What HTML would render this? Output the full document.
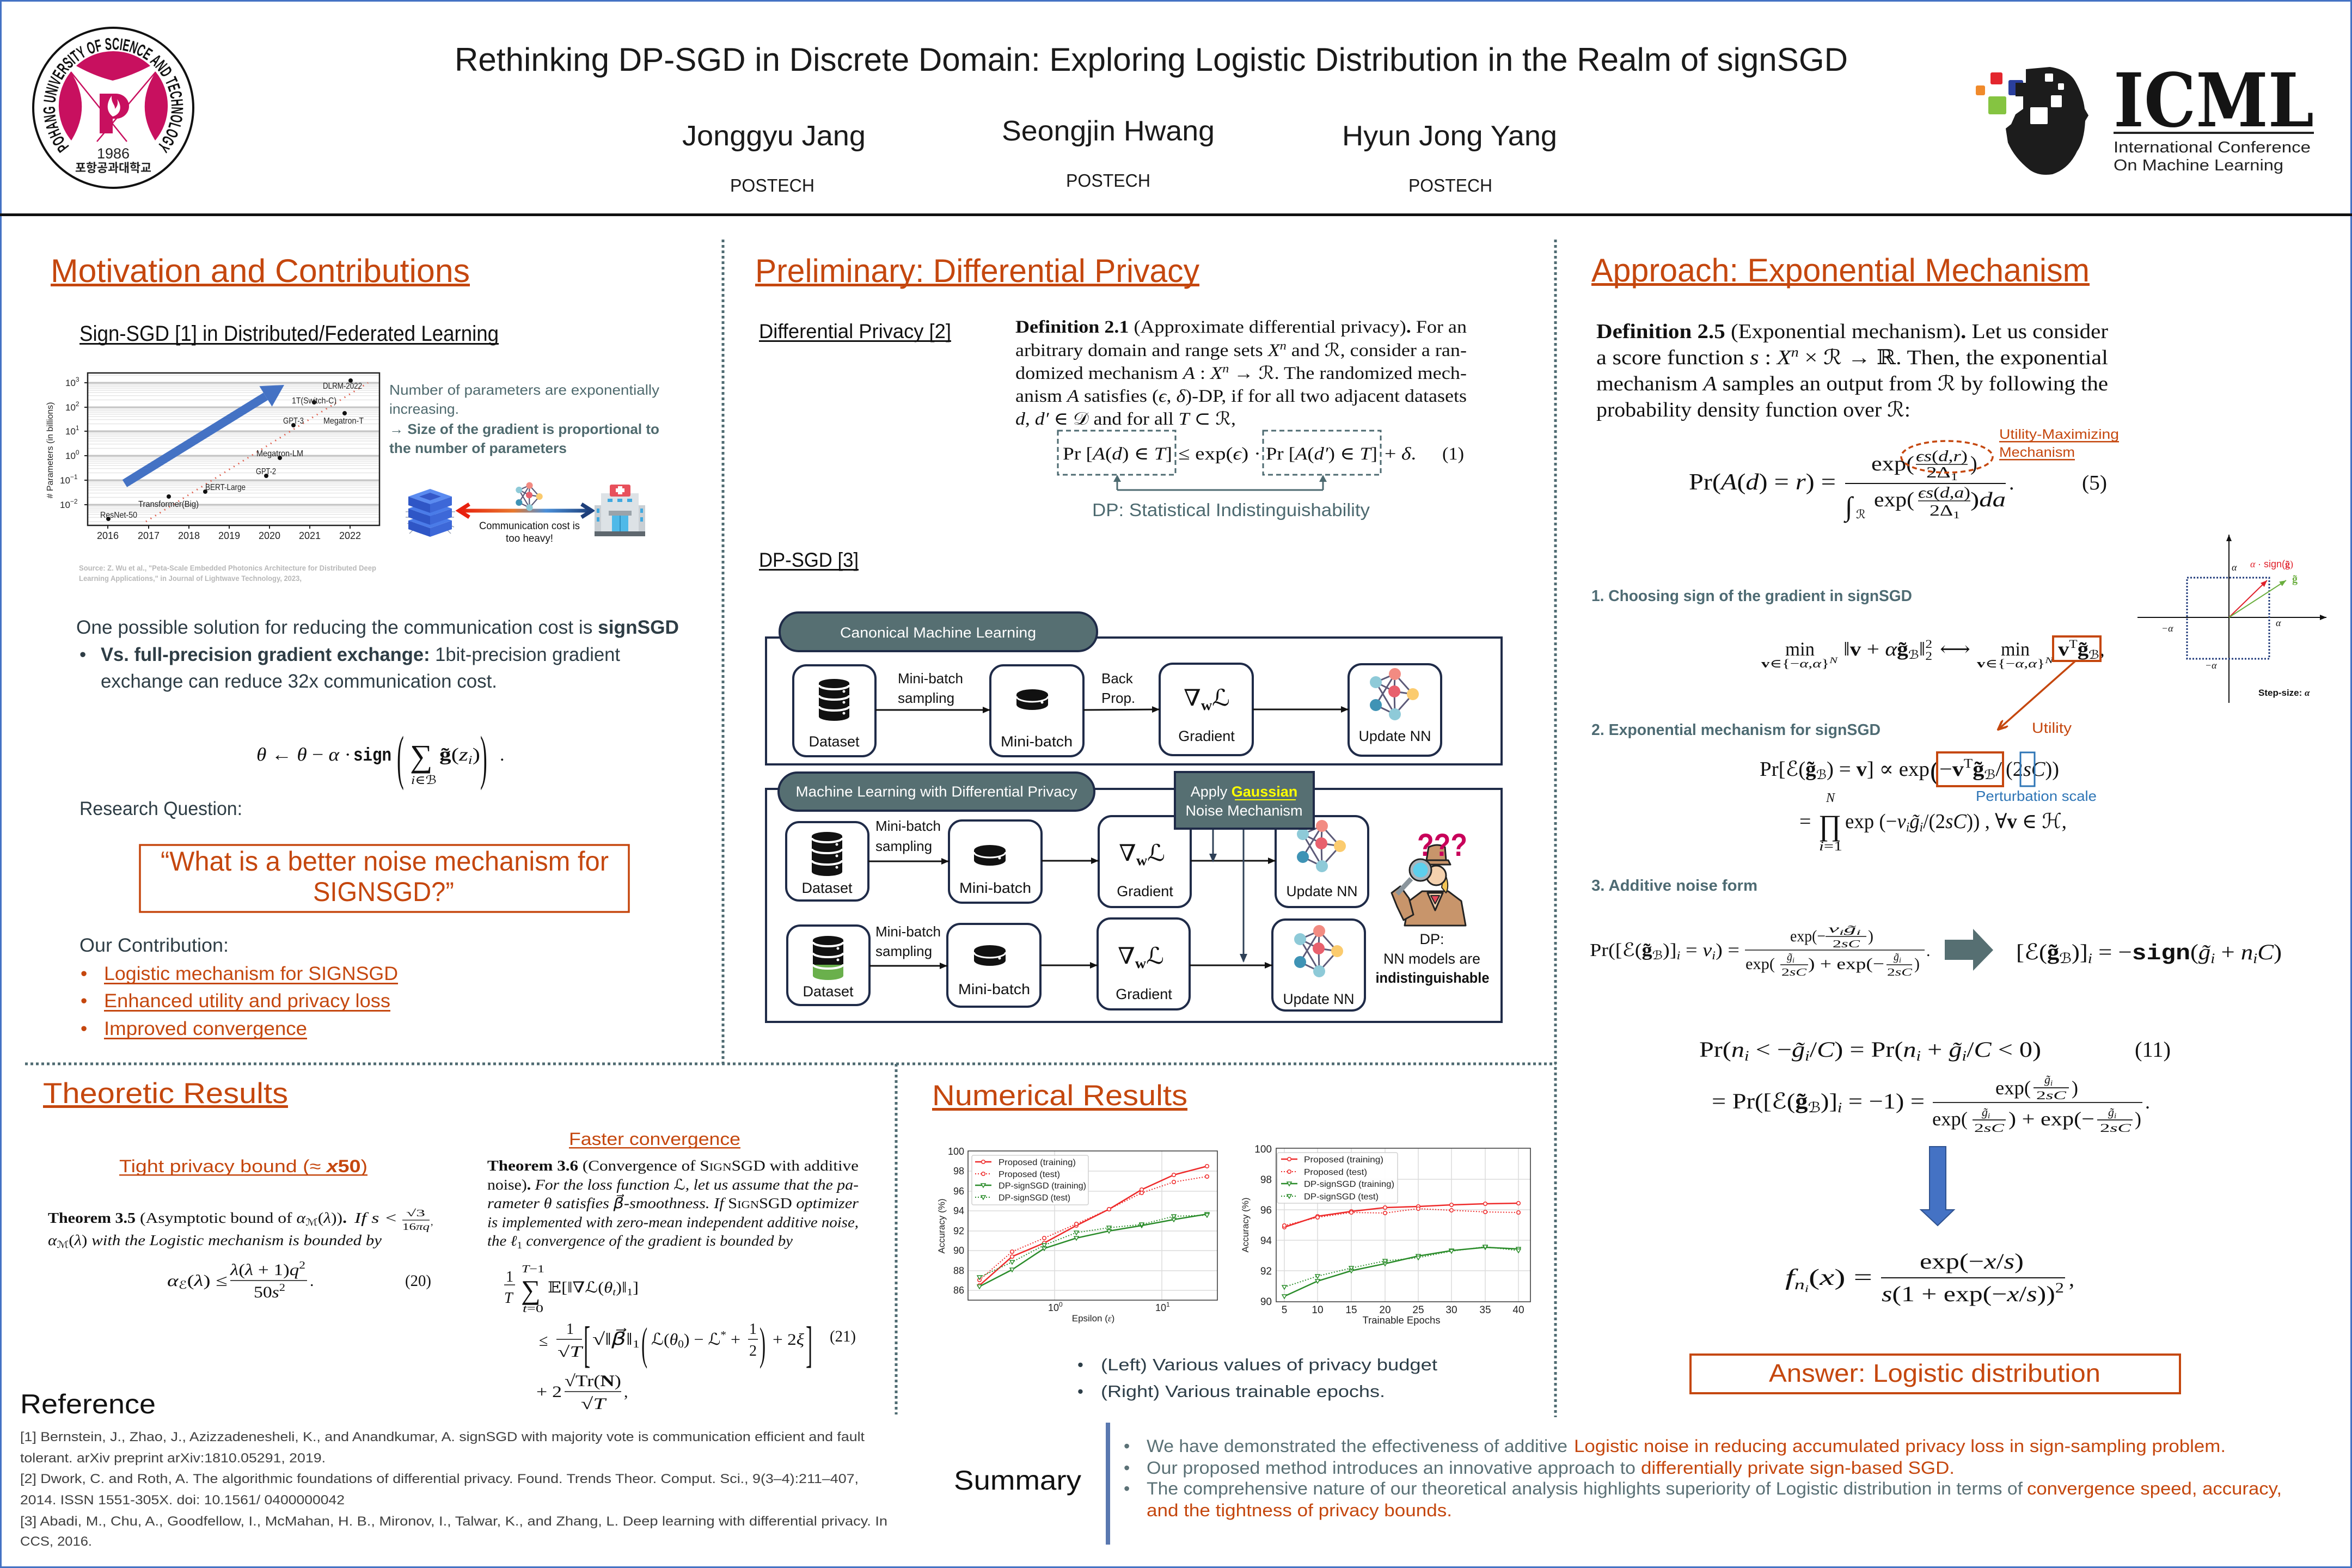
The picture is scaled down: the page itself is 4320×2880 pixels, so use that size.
<!DOCTYPE html>
<html><head><meta charset="utf-8">
<style>
html,body{margin:0;padding:0;background:#fff}
svg{display:block}
text{font-family:"Liberation Sans","DejaVu Sans",sans-serif}
.sf,.sf text{font-family:"Liberation Serif","DejaVu Serif","DejaVu Sans",serif}
.m,.m text{font-family:"Liberation Serif","DejaVu Serif","DejaVu Sans",serif;font-style:italic}
.mono{font-family:"Liberation Mono","DejaVu Sans Mono",monospace;font-weight:bold;font-style:normal}
.o{fill:#C5470E}
.sl{fill:#2E3D45}
.tg{fill:#4D6A70}
</style></head><body>
<svg xmlns="http://www.w3.org/2000/svg" width="4320" height="2880" viewBox="0 0 4320 2880">
<defs>
<marker id="ah" viewBox="0 0 14 12" refX="14" refY="6" markerWidth="14" markerHeight="12" markerUnits="userSpaceOnUse" orient="auto"><path d="M0,0 L14,6 L0,12 z" fill="#111"/></marker>
<marker id="aho" viewBox="0 0 20 16" refX="18" refY="8" markerWidth="20" markerHeight="16" markerUnits="userSpaceOnUse" orient="auto"><path d="M0,0 L18,8 L0,16" fill="none" stroke="#C5470E" stroke-width="4"/></marker>
<marker id="ahk" viewBox="0 0 12 10" refX="12" refY="5" markerWidth="12" markerHeight="10" markerUnits="userSpaceOnUse" orient="auto"><path d="M0,0 L12,5 L0,10 z" fill="#111"/></marker>
<marker id="ahr" viewBox="0 0 12 10" refX="12" refY="5" markerWidth="12" markerHeight="10" markerUnits="userSpaceOnUse" orient="auto"><path d="M0,0 L12,5 L0,10 z" fill="#E0202A"/></marker>
<marker id="ahg" viewBox="0 0 12 10" refX="12" refY="5" markerWidth="12" markerHeight="10" markerUnits="userSpaceOnUse" orient="auto"><path d="M0,0 L12,5 L0,10 z" fill="#6AAE3E"/></marker>
<marker id="mc" viewBox="-5 -5 10 10" markerWidth="10" markerHeight="10" markerUnits="userSpaceOnUse"><circle r="3.3" fill="#fff" stroke="#EE2A2A" stroke-width="1.5"/></marker>
<marker id="mt" viewBox="-5 -5 10 10" markerWidth="10" markerHeight="10" markerUnits="userSpaceOnUse"><path d="M-4,-3 L4,-3 L0,4 Z" fill="#fff" stroke="#2A8C2A" stroke-width="1.5"/></marker>
<linearGradient id="arrg" gradientUnits="userSpaceOnUse" x1="845" y1="938" x2="1088" y2="938"><stop offset="0" stop-color="#E8200E"/><stop offset="0.4" stop-color="#E8782E"/><stop offset="0.65" stop-color="#4A8FD8"/><stop offset="1" stop-color="#1E3F7A"/></linearGradient>
<path id="pcirc" d="M132.3,273.7 A107,107 0 1 1 283.7,273.7"/>
</defs>

<!-- page border -->
<rect x="1.5" y="1.5" width="4317" height="2877" fill="none" stroke="#4472C4" stroke-width="3"/>

<!-- ============ HEADER ============ -->
<circle cx="208" cy="198" r="147" fill="#fff" stroke="#111" stroke-width="4"/>
<text font-size="31" font-weight="bold" fill="#111"><textPath href="#pcirc" startOffset="50%" text-anchor="middle" textLength="490" lengthAdjust="spacingAndGlyphs">POHANG UNIVERSITY OF SCIENCE AND TECHNOLOGY</textPath></text>
<path d="M140,121 A99,99 0 0 1 276,121 Q240,140 207,148 Q174,140 140,121 Z" fill="#C8105F"/>
<path d="M130,132 Q170,195 131,258 A99,99 0 0 1 130,132 Z" fill="#C8105F"/>
<path d="M286,132 Q246,195 285,258 A99,99 0 0 0 286,132 Z" fill="#C8105F"/>
<path d="M130,132 L233,260 M286,132 L178,260" stroke="#C8105F" stroke-width="2.5"/>
<rect x="183" y="172" width="24" height="73" fill="#C8105F"/>
<path d="M183,172 H213 A24,23 0 0 1 213,218 H183 Z" fill="#C8105F"/>
<path d="M207,214 C194,204 196,188 205,176 C204,190 212,192 211,200 C217,194 217,188 215,182 C225,195 222,210 207,214 Z" fill="#fff"/>
<text x="208" y="291" font-size="27" text-anchor="middle" fill="#222">1986</text>
<text x="208" y="316" font-size="22" text-anchor="middle" font-weight="bold" fill="#222" style="font-family:'Noto Sans CJK KR','NanumGothic',sans-serif" textLength="140" lengthAdjust="spacingAndGlyphs">포항공과대학교</text>

<text x="835" y="130" font-size="60" fill="#1a1a1a" textLength="2559" lengthAdjust="spacingAndGlyphs">Rethinking DP-SGD in Discrete Domain: Exploring Logistic Distribution in the Realm of signSGD</text>
<text x="1253" y="267" font-size="52" fill="#1a1a1a" textLength="337" lengthAdjust="spacingAndGlyphs">Jonggyu Jang</text>
<text x="1840" y="258" font-size="52" fill="#1a1a1a" textLength="391" lengthAdjust="spacingAndGlyphs">Seongjin Hwang</text>
<text x="2465" y="267" font-size="52" fill="#1a1a1a" textLength="395" lengthAdjust="spacingAndGlyphs">Hyun Jong Yang</text>
<text x="1341" y="352" font-size="33" fill="#1a1a1a" textLength="155" lengthAdjust="spacingAndGlyphs">POSTECH</text>
<text x="1958" y="343" font-size="33" fill="#1a1a1a" textLength="155" lengthAdjust="spacingAndGlyphs">POSTECH</text>
<text x="2587" y="352" font-size="33" fill="#1a1a1a" textLength="154" lengthAdjust="spacingAndGlyphs">POSTECH</text>

<!-- ICML logo -->
<rect x="3656" y="133" width="22" height="22" rx="3" fill="#E3262E"/>
<rect x="3689" y="147" width="27" height="28" rx="3" fill="#2A3F9D"/>
<rect x="3629" y="157" width="17" height="18" rx="3" fill="#F08A2B"/>
<rect x="3652" y="177" width="33" height="33" rx="3" fill="#85C441"/>
<path d="M3721,127 L3765,123 Q3800,128 3812,150 Q3826,175 3829,200 L3836,212 L3830,222 Q3828,260 3815,278 Q3800,310 3770,320 Q3745,324 3728,312 Q3700,290 3688,262 L3684,236 L3694,228 L3702,210 L3716,200 L3716,177 L3702,177 L3702,152 L3721,152 Z" fill="#1c1c1c"/>
<rect x="3756" y="135" width="15" height="15" rx="2" fill="#fff"/>
<rect x="3780" y="153" width="11" height="12" rx="2" fill="#fff"/>
<rect x="3767" y="175" width="20" height="22" rx="2" fill="#fff"/>
<rect x="3729" y="197" width="32" height="31" rx="2" fill="#fff"/>
<text x="3882" y="232" font-size="136" font-weight="bold" fill="#141414" style="font-family:'DejaVu Serif','Liberation Serif',serif" textLength="368" lengthAdjust="spacingAndGlyphs">ICML</text>
<rect x="3882" y="242" width="368" height="4" fill="#222"/>
<text x="3882" y="280" font-size="29" fill="#222" textLength="362" lengthAdjust="spacingAndGlyphs">International Conference</text>
<text x="3882" y="313" font-size="29" fill="#222" textLength="312" lengthAdjust="spacingAndGlyphs">On Machine Learning</text>

<rect x="0" y="392" width="4320" height="5" fill="#111"/>

<g stroke="#4F6B72" stroke-width="5" stroke-dasharray="5 5" fill="none">
<path d="M1328,440 V1954"/>
<path d="M2857,440 V2603"/>
<path d="M46,1954 H2857"/>
<path d="M1646,1954 V2598"/>
</g>

<!-- ============ MOTIVATION ============ -->
<text x="93" y="518" font-size="60" class="o" textLength="770" lengthAdjust="spacingAndGlyphs">Motivation and Contributions</text>
<rect x="93" y="521" width="770" height="5" fill="#C5470E"/>
<text x="146" y="626" font-size="40" fill="#111" textLength="770" lengthAdjust="spacingAndGlyphs">Sign-SGD [1] in Distributed/Federated Learning</text>
<rect x="146" y="630" width="770" height="3" fill="#111"/>

<rect x="161" y="685" width="536" height="280" fill="#fff"/>
<path d="M161,958.3H697M161,950.4H697M161,944.8H697M161,940.5H697M161,936.9H697M161,933.9H697M161,931.3H697M161,929H697M161,913.5H697M161,905.6H697M161,900H697M161,895.7H697M161,892.1H697M161,889.1H697M161,886.5H697M161,884.2H697M161,868.5H697M161,860.6H697M161,855H697M161,850.7H697M161,847.1H697M161,844.1H697M161,841.5H697M161,839.2H697M161,823.5H697M161,815.6H697M161,810H697M161,805.7H697M161,802.1H697M161,799.1H697M161,796.5H697M161,794.2H697M161,778.5H697M161,770.6H697M161,765H697M161,760.7H697M161,757.1H697M161,754.1H697M161,751.5H697M161,749.2H697M161,734.5H697M161,726.6H697M161,721H697M161,716.7H697M161,713.1H697M161,710.1H697M161,707.5H697M161,705.2H697M161,689.5H697" stroke="#e6e6e6" stroke-width="1.5"/>
<path d="M161,927H697M161,882H697M161,837H697M161,792H697M161,748H697M161,703H697" stroke="#c4c4c4" stroke-width="3"/>
<rect x="161" y="685" width="536" height="280" fill="none" stroke="#222" stroke-width="2.5"/>
<path d="M161,927h-6M161,882h-6M161,837h-6M161,792h-6M161,748h-6M161,703h-6M198,965v6M273,965v6M347,965v6M421,965v6M495,965v6M569,965v6M643,965v6" stroke="#222" stroke-width="2"/>
<g font-size="17" fill="#222">
<text x="120" y="709">10<tspan font-size="12" dy="-8">3</tspan></text>
<text x="120" y="754">10<tspan font-size="12" dy="-8">2</tspan></text>
<text x="120" y="798">10<tspan font-size="12" dy="-8">1</tspan></text>
<text x="120" y="843">10<tspan font-size="12" dy="-8">0</tspan></text>
<text x="110" y="888">10<tspan font-size="12" dy="-8">−1</tspan></text>
<text x="110" y="933">10<tspan font-size="12" dy="-8">−2</tspan></text>
</g>
<g font-size="18" fill="#222" text-anchor="middle">
<text x="198" y="990">2016</text><text x="273" y="990">2017</text><text x="347" y="990">2018</text><text x="421" y="990">2019</text><text x="495" y="990">2020</text><text x="569" y="990">2021</text><text x="643" y="990">2022</text>
</g>
<text transform="translate(97,827) rotate(-90)" font-size="16" text-anchor="middle" fill="#222">#  Parameters (in billions)</text>
<path d="M268,958 L676,703" stroke="#E0604F" stroke-width="3" stroke-dasharray="2 8"/>
<path d="M229,888 L488,728" stroke="#4472C4" stroke-width="16"/>
<polygon points="522,707 499.6,746.7 476.4,709.3" fill="#4472C4"/>
<g fill="#111">
<circle cx="644" cy="699" r="4"/><circle cx="577" cy="739" r="4"/><circle cx="633" cy="759" r="4"/><circle cx="539" cy="781" r="4"/><circle cx="514" cy="841" r="4"/><circle cx="489" cy="874" r="4"/><circle cx="377" cy="903" r="4"/><circle cx="310" cy="912" r="4"/><circle cx="199" cy="953" r="4"/>
</g>
<g font-size="16" fill="#222">
<text x="593" y="714" textLength="72" lengthAdjust="spacingAndGlyphs">DLRM-2022</text>
<text x="536" y="741" textLength="82" lengthAdjust="spacingAndGlyphs">1T(Switch-C)</text>
<text x="520" y="778" textLength="38" lengthAdjust="spacingAndGlyphs">GPT-3</text>
<text x="594" y="778" textLength="74" lengthAdjust="spacingAndGlyphs">Megatron-T</text>
<text x="471" y="838" textLength="86" lengthAdjust="spacingAndGlyphs">Megatron-LM</text>
<text x="470" y="871" textLength="37" lengthAdjust="spacingAndGlyphs">GPT-2</text>
<text x="377" y="900" textLength="74" lengthAdjust="spacingAndGlyphs">BERT-Large</text>
<text x="254" y="931" textLength="111" lengthAdjust="spacingAndGlyphs">Transformer(Big)</text>
<text x="184" y="951" textLength="68" lengthAdjust="spacingAndGlyphs">ResNet-50</text>
</g>

<g font-size="26" fill="#4F6A6E">
<text x="715" y="725" textLength="496" lengthAdjust="spacingAndGlyphs">Number of parameters are exponentially</text>
<text x="715" y="760" textLength="128" lengthAdjust="spacingAndGlyphs">increasing.</text>
<text x="715" y="797" font-weight="bold" textLength="496" lengthAdjust="spacingAndGlyphs">→ Size of the gradient is proportional to</text>
<text x="715" y="832" font-weight="bold" textLength="326" lengthAdjust="spacingAndGlyphs">the number of parameters</text>
</g>

<g stroke="#9aa3b5" stroke-width="1.5" fill="none">
<path d="M745,940 h14 l8,8 M745,950 h12 l10,10 M748,962 l12,-6 M826,940 h10 M822,950 h12 M820,962 l14,6 M760,972 l-8,8 M820,972 l8,8"/>
</g>
<g>
<polygon points="750,956 790,970 790,986 750,972" fill="#2F56C6"/><polygon points="790,970 830,956 830,972 790,986" fill="#3D68D8"/><polygon points="750,956 790,942 830,956 790,970" fill="#4A7BE8"/>
<polygon points="750,934 790,948 790,964 750,950" fill="#2F56C6"/><polygon points="790,948 830,934 830,950 790,964" fill="#3D68D8"/><polygon points="750,934 790,920 830,934 790,948" fill="#4A7BE8"/>
<polygon points="750,912 790,926 790,942 750,928" fill="#2F56C6"/><polygon points="790,926 830,912 830,928 790,942" fill="#3D68D8"/><polygon points="750,912 790,898 830,912 790,926" fill="#5B8BF0"/>
<polygon points="770,912 790,905 810,912 790,919" fill="#3558C8"/>
</g>
<rect x="850" y="934.5" width="230" height="7" fill="url(#arrg)"/>
<path d="M862,926 L843,938 L862,950" fill="none" stroke="#E8200E" stroke-width="7"/>
<path d="M1068,926 L1087,938 L1068,950" fill="none" stroke="#1E3F7A" stroke-width="7"/>
<g transform="translate(972,912) scale(0.55)">
<path d="M-34,-22 L1,-37 M-34,-22 L0,-5 M-34,-22 L1,37 M1,-37 L0,-5 M1,-37 L34,0 M1,-37 L-34,20 M0,-5 L34,0 M0,-5 L1,37 M34,0 L1,37 M-34,20 L1,37" stroke="#5C5A78" stroke-width="4"/>
<circle cx="-34" cy="-22" r="11" fill="#8ECAD8"/><circle cx="1" cy="-37" r="11" fill="#F28B82"/><circle cx="0" cy="-5" r="11" fill="#E8606D"/><circle cx="34" cy="0" r="11" fill="#FBCB6E"/><circle cx="-34" cy="20" r="11" fill="#3F93B5"/><circle cx="1" cy="37" r="11" fill="#8ECAD8"/>
</g>
<text x="880" y="972" font-size="19" fill="#111" textLength="185" lengthAdjust="spacingAndGlyphs">Communication cost is</text>
<text x="929" y="995" font-size="19" fill="#111" textLength="87" lengthAdjust="spacingAndGlyphs">too heavy!</text>
<rect x="1092" y="928" width="93" height="50" fill="#C9CFD4"/>
<rect x="1104" y="906" width="69" height="72" fill="#DDE2E6"/>
<rect x="1120" y="890" width="38" height="22" rx="3" fill="#E8505B"/>
<rect x="1135" y="893" width="8" height="15" fill="#fff"/><rect x="1131" y="897" width="16" height="7" fill="#fff"/>
<rect x="1116" y="916" width="9" height="6" fill="#3FA9E0"/><rect x="1134" y="916" width="9" height="6" fill="#3FA9E0"/><rect x="1152" y="916" width="9" height="6" fill="#3FA9E0"/>
<rect x="1096" y="934" width="5" height="8" fill="#3FA9E0"/><rect x="1096" y="950" width="5" height="8" fill="#3FA9E0"/><rect x="1176" y="934" width="5" height="8" fill="#3FA9E0"/><rect x="1176" y="950" width="5" height="8" fill="#3FA9E0"/>
<rect x="1118" y="938" width="42" height="9" fill="#9AA3AA"/>
<rect x="1124" y="947" width="30" height="30" fill="#4FB9E8"/><rect x="1138" y="947" width="2" height="30" fill="#2d8fc0"/>
<rect x="1092" y="976" width="93" height="9" fill="#5E676E"/>

<text x="145" y="1048" font-size="14" font-weight="bold" fill="#B8B8B8" textLength="546" lengthAdjust="spacingAndGlyphs">Source: Z. Wu et al., "Peta-Scale Embedded Photonics Architecture for Distributed Deep</text>
<text x="145" y="1067" font-size="14" font-weight="bold" fill="#B8B8B8" textLength="409" lengthAdjust="spacingAndGlyphs">Learning Applications," in Journal of Lightwave Technology, 2023,</text>

<g font-size="35" class="sl">
<text x="140" y="1164" textLength="1107" lengthAdjust="spacingAndGlyphs">One possible solution for reducing the communication cost is <tspan font-weight="bold">signSGD</tspan></text>
<text x="146" y="1214">•</text>
<text x="185" y="1214" textLength="954" lengthAdjust="spacingAndGlyphs"><tspan font-weight="bold">Vs. full-precision gradient exchange:</tspan> 1bit-precision gradient</text>
<text x="185" y="1263" textLength="728" lengthAdjust="spacingAndGlyphs">exchange can reduce 32x communication cost.</text>
</g>
<text class="m" x="471" y="1397" font-size="34" fill="#111" textLength="174" lengthAdjust="spacingAndGlyphs">θ <tspan font-style="normal">←</tspan> θ <tspan font-style="normal">−</tspan> α <tspan font-style="normal">·</tspan></text>
<text class="mono" x="649" y="1397" font-size="34" fill="#111" textLength="70" lengthAdjust="spacingAndGlyphs">sign</text>
<text class="sf" x="729" y="1428" font-size="110" fill="#111" transform="translate(729,1428) scale(0.35,1) translate(-729,-1428)">(</text>
<text class="sf" x="753" y="1408" font-size="58" fill="#111">∑</text>
<text class="m" x="755" y="1440" font-size="22" fill="#111" textLength="47" lengthAdjust="spacingAndGlyphs">i∈ℬ</text>
<text class="m" x="807" y="1397" font-size="34" fill="#111" textLength="75" lengthAdjust="spacingAndGlyphs"><tspan font-weight="bold" font-style="normal">g̃</tspan><tspan font-style="normal">(</tspan>z<tspan font-size="22" dy="6">i</tspan><tspan font-style="normal" dy="-6">)</tspan></text>
<text class="sf" x="882" y="1428" font-size="110" fill="#111" transform="translate(882,1428) scale(0.35,1) translate(-882,-1428)">)</text>
<text class="sf" x="918" y="1397" font-size="34" fill="#111">.</text>

<text x="146" y="1497" font-size="35" class="sl" textLength="299" lengthAdjust="spacingAndGlyphs">Research Question:</text>
<rect x="257" y="1552" width="898" height="123" fill="none" stroke="#C5470E" stroke-width="3.5"/>
<text x="295" y="1599" font-size="50" class="o" textLength="823" lengthAdjust="spacingAndGlyphs">“What is a better noise mechanism for</text>
<text x="575" y="1655" font-size="50" class="o" textLength="259" lengthAdjust="spacingAndGlyphs">SIGNSGD?”</text>
<text x="146" y="1748" font-size="35" class="sl" textLength="274" lengthAdjust="spacingAndGlyphs">Our Contribution:</text>
<g font-size="35" class="o">
<text x="148" y="1800">•</text><text x="148" y="1850">•</text><text x="148" y="1901">•</text>
<text x="191" y="1800" textLength="540" lengthAdjust="spacingAndGlyphs">Logistic mechanism for SIGNSGD</text>
<text x="191" y="1850" textLength="526" lengthAdjust="spacingAndGlyphs">Enhanced utility and privacy loss</text>
<text x="191" y="1901" textLength="373" lengthAdjust="spacingAndGlyphs">Improved convergence</text>
</g>
<rect x="191" y="1805" width="540" height="3" fill="#C5470E"/>
<rect x="191" y="1855" width="526" height="3" fill="#C5470E"/>
<rect x="191" y="1906" width="373" height="3" fill="#C5470E"/>

<!-- ============ PRELIMINARY ============ -->
<text x="1387" y="518" font-size="60" class="o" textLength="816" lengthAdjust="spacingAndGlyphs">Preliminary: Differential Privacy</text>
<rect x="1387" y="521" width="816" height="5" fill="#C5470E"/>
<text x="1394" y="621" font-size="37" fill="#111" textLength="353" lengthAdjust="spacingAndGlyphs">Differential Privacy [2]</text>
<rect x="1394" y="625" width="353" height="3" fill="#111"/>

<g class="sf" font-size="33" fill="#111">
<text x="1865" y="611" textLength="829" lengthAdjust="spacingAndGlyphs"><tspan font-weight="bold">Definition 2.1</tspan> (Approximate differential privacy)<tspan font-weight="bold">.</tspan>  For an</text>
<text x="1865" y="654" textLength="829" lengthAdjust="spacingAndGlyphs">arbitrary domain and range sets <tspan font-style="italic">X</tspan><tspan font-style="italic" font-size="22" dy="-12">n</tspan><tspan dy="12"> and ℛ, consider a ran-</tspan></text>
<text x="1865" y="696" textLength="829" lengthAdjust="spacingAndGlyphs">domized mechanism <tspan font-style="italic">A</tspan> : <tspan font-style="italic">X</tspan><tspan font-style="italic" font-size="22" dy="-12">n</tspan><tspan dy="12"> → ℛ. The randomized mech-</tspan></text>
<text x="1865" y="738" textLength="829" lengthAdjust="spacingAndGlyphs">anism <tspan font-style="italic">A</tspan> satisfies (<tspan font-style="italic">ϵ</tspan>, <tspan font-style="italic">δ</tspan>)-DP, if for all two adjacent datasets</text>
<text x="1865" y="780" textLength="405" lengthAdjust="spacingAndGlyphs"><tspan font-style="italic">d</tspan>, <tspan font-style="italic">d′</tspan> ∈ 𝒟 and for all <tspan font-style="italic">T</tspan> ⊂ ℛ,</text>
<text x="1952" y="844" textLength="201" lengthAdjust="spacingAndGlyphs">Pr [<tspan font-style="italic">A</tspan>(<tspan font-style="italic">d</tspan>) ∈ <tspan font-style="italic">T</tspan>]</text>
<text x="2164" y="844" textLength="152" lengthAdjust="spacingAndGlyphs">≤ exp(<tspan font-style="italic">ϵ</tspan>) ·</text>
<text x="2325" y="844" textLength="205" lengthAdjust="spacingAndGlyphs">Pr [<tspan font-style="italic">A</tspan>(<tspan font-style="italic">d′</tspan>) ∈ <tspan font-style="italic">T</tspan>]</text>
<text x="2543" y="844" textLength="58" lengthAdjust="spacingAndGlyphs">+ <tspan font-style="italic">δ</tspan>.</text>
<text x="2649" y="844" textLength="40" lengthAdjust="spacingAndGlyphs">(1)</text>
</g>
<g fill="none" stroke="#4D6A70" stroke-width="3" stroke-dasharray="9 6">
<rect x="1943" y="791" width="216" height="81"/>
<rect x="2320" y="791" width="216" height="81"/>
</g>
<path d="M2052,900 V874 M2430,900 V874 M2052,900 H2430" stroke="#4D6A70" stroke-width="3" fill="none"/>
<polygon points="2052,872 2045,885 2059,885" fill="#4D6A70"/><polygon points="2430,872 2423,885 2437,885" fill="#4D6A70"/>
<text x="2006" y="948" font-size="33" class="tg" textLength="510" lengthAdjust="spacingAndGlyphs">DP: Statistical Indistinguishability</text>

<text x="1394" y="1041" font-size="37" fill="#111" textLength="183" lengthAdjust="spacingAndGlyphs">DP-SGD [3]</text>
<rect x="1394" y="1045" width="183" height="3" fill="#111"/>

<rect x="1407" y="1171" width="1351" height="233" fill="none" stroke="#1F2B48" stroke-width="4"/>
<rect x="1407" y="1449" width="1351" height="428" fill="none" stroke="#1F2B48" stroke-width="4"/>
<rect x="1432" y="1125" width="583" height="71" rx="35" fill="#566F72" stroke="#1F2B48" stroke-width="4"/>
<text x="1723" y="1171" font-size="27" fill="#fff" text-anchor="middle" textLength="360" lengthAdjust="spacingAndGlyphs">Canonical Machine Learning</text>
<rect x="1430" y="1419" width="580" height="70" rx="35" fill="#566F72" stroke="#1F2B48" stroke-width="4"/>
<text x="1720" y="1463" font-size="27" fill="#fff" text-anchor="middle" textLength="517" lengthAdjust="spacingAndGlyphs">Machine Learning with Differential Privacy</text>

<g fill="#fff" stroke="#1F2B48" stroke-width="4">
<rect x="1457" y="1222" width="151" height="167" rx="24"/>
<rect x="1819" y="1222" width="171" height="167" rx="24"/>
<rect x="2130" y="1219" width="171" height="168" rx="24"/>
<rect x="2477" y="1220" width="170" height="168" rx="24"/>
<rect x="1444" y="1510" width="151" height="144" rx="24"/>
<rect x="1743" y="1507" width="170" height="151" rx="24"/>
<rect x="2018" y="1499" width="169" height="167" rx="24"/>
<rect x="2343" y="1499" width="170" height="167" rx="24"/>
<rect x="1446" y="1700" width="151" height="146" rx="24"/>
<rect x="1740" y="1697" width="171" height="152" rx="24"/>
<rect x="2016" y="1687" width="169" height="167" rx="24"/>
<rect x="2337" y="1689" width="170" height="167" rx="24"/>
</g>

<g>
<path d="M1504,1255 A28,8 0 0 1 1560,1255 V1316 A28,8 0 0 1 1504,1316 Z" fill="#111"/>
<path d="M1504,1277 A28,8 0 0 0 1560,1277 M1504,1297 A28,8 0 0 0 1560,1297 M1504,1258 A28,8 0 0 0 1560,1258" stroke="#fff" stroke-width="4" fill="none"/>
<circle cx="1550" cy="1270" r="2.5" fill="#fff"/><circle cx="1550" cy="1290" r="2.5" fill="#fff"/><circle cx="1550" cy="1310" r="2.5" fill="#fff"/>
<path d="M1491,1536 A28,8 0 0 1 1547,1536 V1601 A28,8 0 0 1 1491,1601 Z" fill="#111"/>
<path d="M1491,1559 A28,8 0 0 0 1547,1559 M1491,1580 A28,8 0 0 0 1547,1580 M1491,1539 A28,8 0 0 0 1547,1539" stroke="#fff" stroke-width="4" fill="none"/>
<circle cx="1537" cy="1551" r="2.5" fill="#fff"/><circle cx="1537" cy="1572" r="2.5" fill="#fff"/><circle cx="1537" cy="1593" r="2.5" fill="#fff"/>
<path d="M1493,1727 A28,8 0 0 1 1549,1727 V1772 H1493 Z" fill="#111"/>
<path d="M1493,1772 H1549 V1792 A28,8 0 0 1 1493,1792 Z" fill="#6AB04C"/>
<path d="M1493,1750 A28,8 0 0 0 1549,1750 M1493,1771 A28,8 0 0 0 1549,1771 M1493,1730 A28,8 0 0 0 1549,1730" stroke="#fff" stroke-width="4" fill="none"/>
<circle cx="1539" cy="1742" r="2.5" fill="#fff"/><circle cx="1539" cy="1763" r="2.5" fill="#fff"/>
</g>
<g fill="#111">
<path d="M1867,1276 A29,10 0 0 1 1925,1276 V1294 A29,10 0 0 1 1867,1294 Z"/>
<path d="M1789,1562 A29,10 0 0 1 1847,1562 V1580 A29,10 0 0 1 1789,1580 Z"/>
<path d="M1789,1746 A29,10 0 0 1 1847,1746 V1764 A29,10 0 0 1 1789,1764 Z"/>
</g>
<path d="M1867,1279 A29,10 0 0 0 1925,1279 M1789,1565 A29,10 0 0 0 1847,1565 M1789,1749 A29,10 0 0 0 1847,1749" stroke="#fff" stroke-width="3" fill="none"/>
<circle cx="1914" cy="1290" r="2.5" fill="#fff"/><circle cx="1836" cy="1576" r="2.5" fill="#fff"/><circle cx="1836" cy="1760" r="2.5" fill="#fff"/>

<g class="sf" fill="#111" font-size="42">
<text x="2174" y="1296" textLength="85" lengthAdjust="spacingAndGlyphs">∇<tspan font-weight="bold" font-size="26" dy="8">w</tspan><tspan font-style="italic" dy="-8">ℒ</tspan></text>
<text x="2055" y="1581" textLength="85" lengthAdjust="spacingAndGlyphs">∇<tspan font-weight="bold" font-size="26" dy="8">w</tspan><tspan font-style="italic" dy="-8">ℒ</tspan></text>
<text x="2053" y="1770" textLength="85" lengthAdjust="spacingAndGlyphs">∇<tspan font-weight="bold" font-size="26" dy="8">w</tspan><tspan font-style="italic" dy="-8">ℒ</tspan></text>
</g>

<g transform="translate(2561,1275)">
<path d="M-34,-22 L1,-37 M-34,-22 L0,-5 M-34,-22 L1,37 M1,-37 L0,-5 M1,-37 L34,0 M1,-37 L-34,20 M0,-5 L34,0 M0,-5 L1,37 M34,0 L1,37 M-34,20 L1,37" stroke="#5C5A78" stroke-width="3"/>
<circle cx="-34" cy="-22" r="11" fill="#8ECAD8"/><circle cx="1" cy="-37" r="11" fill="#F28B82"/><circle cx="0" cy="-5" r="11" fill="#E8606D"/><circle cx="34" cy="0" r="11" fill="#FBCB6E"/><circle cx="-34" cy="20" r="11" fill="#3F93B5"/><circle cx="1" cy="37" r="11" fill="#8ECAD8"/>
</g>
<g transform="translate(2427,1554)">
<path d="M-34,-22 L1,-37 M-34,-22 L0,-5 M-34,-22 L1,37 M1,-37 L0,-5 M1,-37 L34,0 M1,-37 L-34,20 M0,-5 L34,0 M0,-5 L1,37 M34,0 L1,37 M-34,20 L1,37" stroke="#5C5A78" stroke-width="3"/>
<circle cx="-34" cy="-22" r="11" fill="#8ECAD8"/><circle cx="1" cy="-37" r="11" fill="#F28B82"/><circle cx="0" cy="-5" r="11" fill="#E8606D"/><circle cx="34" cy="0" r="11" fill="#FBCB6E"/><circle cx="-34" cy="20" r="11" fill="#3F93B5"/><circle cx="1" cy="37" r="11" fill="#8ECAD8"/>
</g>
<g transform="translate(2422,1747)">
<path d="M-34,-22 L1,-37 M-34,-22 L0,-5 M-34,-22 L1,37 M1,-37 L0,-5 M1,-37 L34,0 M1,-37 L-34,20 M0,-5 L34,0 M0,-5 L1,37 M34,0 L1,37 M-34,20 L1,37" stroke="#5C5A78" stroke-width="3"/>
<circle cx="-34" cy="-22" r="11" fill="#8ECAD8"/><circle cx="1" cy="-37" r="11" fill="#F28B82"/><circle cx="0" cy="-5" r="11" fill="#E8606D"/><circle cx="34" cy="0" r="11" fill="#FBCB6E"/><circle cx="-34" cy="20" r="11" fill="#3F93B5"/><circle cx="1" cy="37" r="11" fill="#8ECAD8"/>
</g>

<g font-size="27" fill="#111" text-anchor="middle">
<text x="1532" y="1371">Dataset</text>
<text x="1904" y="1371" textLength="132" lengthAdjust="spacingAndGlyphs">Mini-batch</text>
<text x="2216" y="1361">Gradient</text>
<text x="2562" y="1361" textLength="133" lengthAdjust="spacingAndGlyphs">Update NN</text>
<text x="1519" y="1640">Dataset</text>
<text x="1828" y="1640" textLength="132" lengthAdjust="spacingAndGlyphs">Mini-batch</text>
<text x="2103" y="1646">Gradient</text>
<text x="2428" y="1646" textLength="131" lengthAdjust="spacingAndGlyphs">Update NN</text>
<text x="1521" y="1830">Dataset</text>
<text x="1826" y="1826" textLength="132" lengthAdjust="spacingAndGlyphs">Mini-batch</text>
<text x="2101" y="1835">Gradient</text>
<text x="2422" y="1844" textLength="131" lengthAdjust="spacingAndGlyphs">Update NN</text>
</g>
<g font-size="26" fill="#111">
<text x="1649" y="1255">Mini-batch</text><text x="1649" y="1291">sampling</text>
<text x="2023" y="1255">Back</text><text x="2023" y="1291">Prop.</text>
<text x="1608" y="1526">Mini-batch</text><text x="1608" y="1563">sampling</text>
<text x="1608" y="1720">Mini-batch</text><text x="1608" y="1756">sampling</text>
</g>
<g stroke="#111" stroke-width="3" fill="none" marker-end="url(#ah)">
<path d="M1608,1304 H1819"/><path d="M1990,1304 L2130,1303"/><path d="M2301,1303 H2477"/>
<path d="M1595,1582 H1743"/><path d="M1913,1581 H2018"/><path d="M2187,1581 H2343"/>
<path d="M1597,1774 H1740"/><path d="M1911,1773 H2016"/><path d="M2185,1773 H2337"/>
</g>
<path d="M2228,1522 V1582 M2284,1522 V1766" stroke="#2E4057" stroke-width="3" fill="none"/>
<polygon points="2228,1584 2221,1568 2235,1568" fill="#2E4057"/>
<polygon points="2284,1768 2277,1752 2291,1752" fill="#2E4057"/>
<rect x="2158" y="1418" width="255" height="104" fill="#566F72" stroke="#1F2B48" stroke-width="4"/>
<text x="2285" y="1463" font-size="27" fill="#fff" text-anchor="middle">Apply <tspan fill="#FFFF00" font-weight="bold">Gaussian</tspan></text>
<rect x="2268" y="1468" width="112" height="2" fill="#FFFF00"/>
<text x="2285" y="1498" font-size="27" fill="#fff" text-anchor="middle" textLength="215" lengthAdjust="spacingAndGlyphs">Noise Mechanism</text>

<g stroke="#222" stroke-width="3" stroke-linejoin="round">
<path d="M2580,1700 L2588,1655 L2612,1637 L2660,1637 L2684,1655 L2692,1700 Z" fill="#C8956B"/>
<path d="M2622,1640 L2636,1672 L2650,1640 Z" fill="#F4D1AE"/>
<path d="M2628,1645 L2636,1660 L2644,1645 Z" fill="#E8485A" stroke-width="2"/>
<path d="M2652,1600 Q2664,1625 2656,1640 L2648,1630 Z" fill="#F3C556" stroke-width="2"/>
<circle cx="2638" cy="1608" r="18" fill="#F4D1AE"/>
<path d="M2612,1588 L2664,1588 L2660,1580 L2618,1580 Z" fill="#C8956B"/>
<path d="M2620,1580 L2624,1556 Q2640,1548 2654,1556 L2656,1580 Z" fill="#C8956B"/>
<path d="M2566,1665 L2556,1640 L2572,1628 L2588,1650 L2596,1680 L2578,1690 Z" fill="#C8956B"/>
<path d="M2592,1614 L2566,1642" stroke="#8A959C" stroke-width="9"/>
<circle cx="2609" cy="1598" r="20" fill="#5DD0EE" stroke="#222"/>
<circle cx="2609" cy="1598" r="16" fill="none" stroke="#AAB4BB" stroke-width="5"/>
</g>
<text x="2603" y="1572" font-size="58" font-weight="bold" fill="#C8005A" textLength="92" lengthAdjust="spacingAndGlyphs">???</text>
<g font-size="27" fill="#111" text-anchor="middle">
<text x="2630" y="1734">DP:</text>
<text x="2630" y="1770" textLength="178" lengthAdjust="spacingAndGlyphs">NN models are</text>
<text x="2631" y="1805" font-weight="bold" textLength="209" lengthAdjust="spacingAndGlyphs">indistinguishable</text>
</g>

<!-- ============ APPROACH ============ -->
<text x="2923" y="517" font-size="60" class="o" textLength="915" lengthAdjust="spacingAndGlyphs">Approach: Exponential Mechanism</text>
<rect x="2923" y="520" width="915" height="5" fill="#C5470E"/>
<g class="sf" font-size="38" fill="#111">
<text x="2932" y="621" textLength="940" lengthAdjust="spacingAndGlyphs"><tspan font-weight="bold">Definition 2.5</tspan> (Exponential mechanism)<tspan font-weight="bold">.</tspan>  Let us consider</text>
<text x="2932" y="669" textLength="940" lengthAdjust="spacingAndGlyphs">a score function <tspan font-style="italic">s</tspan> : <tspan font-style="italic">X</tspan><tspan font-style="italic" font-size="25" dy="-14">n</tspan><tspan dy="14"> × ℛ → ℝ. Then, the exponential</tspan></text>
<text x="2932" y="717" textLength="940" lengthAdjust="spacingAndGlyphs">mechanism <tspan font-style="italic">A</tspan> samples an output from ℛ by following the</text>
<text x="2932" y="765" textLength="577" lengthAdjust="spacingAndGlyphs">probability density function over ℛ:</text>
</g>
<text x="3672" y="806" font-size="25" class="o" textLength="220" lengthAdjust="spacingAndGlyphs">Utility-Maximizing</text>
<rect x="3672" y="810" width="220" height="2.5" fill="#C5470E"/>
<text x="3672" y="839" font-size="25" class="o" textLength="139" lengthAdjust="spacingAndGlyphs">Mechanism</text>
<rect x="3672" y="843" width="139" height="2.5" fill="#C5470E"/>
<g class="sf" fill="#111">
<text x="3102" y="899" font-size="42" textLength="270" lengthAdjust="spacingAndGlyphs">Pr(<tspan font-style="italic">A</tspan>(<tspan font-style="italic">d</tspan>) = <tspan font-style="italic">r</tspan>) =</text>
<text x="3437" y="864" font-size="38" textLength="79" lengthAdjust="spacingAndGlyphs">exp(</text>
<text x="3519" y="847" font-size="28" font-style="italic" textLength="95" lengthAdjust="spacingAndGlyphs">ϵs<tspan font-style="normal">(</tspan>d,r<tspan font-style="normal">)</tspan></text>
<text x="3538" y="877" font-size="28" textLength="58" lengthAdjust="spacingAndGlyphs">2Δ<tspan font-size="19" dy="5">1</tspan></text>
<text x="3619" y="864" font-size="38">)</text>
<text x="3389" y="947" font-size="50">∫</text>
<text x="3409" y="952" font-size="22" font-style="italic">ℛ</text>
<text x="3442" y="930" font-size="38" textLength="74" lengthAdjust="spacingAndGlyphs">exp(</text>
<text x="3523" y="914" font-size="28" font-style="italic" textLength="96" lengthAdjust="spacingAndGlyphs">ϵs<tspan font-style="normal">(</tspan>d,a<tspan font-style="normal">)</tspan></text>
<text x="3544" y="947" font-size="28" textLength="56" lengthAdjust="spacingAndGlyphs">2Δ<tspan font-size="19" dy="5">1</tspan></text>
<text x="3619" y="930" font-size="38" textLength="65" lengthAdjust="spacingAndGlyphs">)<tspan font-style="italic">da</tspan></text>
<text x="3690" y="899" font-size="38">.</text>
<text x="3824" y="899" font-size="38" textLength="46" lengthAdjust="spacingAndGlyphs">(5)</text>
</g>
<path d="M3519,853 H3614 M3523,920 H3619" stroke="#111" stroke-width="1.5"/>
<path d="M3389,888 H3684" stroke="#111" stroke-width="2"/>
<ellipse cx="3576" cy="839" rx="84" ry="29" fill="none" stroke="#C5470E" stroke-width="3.5" stroke-dasharray="9 6"/>

<g font-size="29" font-weight="bold" fill="#4E6B73">
<text x="2923" y="1104" textLength="589" lengthAdjust="spacingAndGlyphs">1. Choosing sign of the gradient in signSGD</text>
<text x="2923" y="1350" textLength="531" lengthAdjust="spacingAndGlyphs">2. Exponential mechanism for signSGD</text>
<text x="2923" y="1636" textLength="305" lengthAdjust="spacingAndGlyphs">3. Additive noise form</text>
</g>
<g class="sf" fill="#111">
<text x="3279" y="1204" font-size="36" textLength="54" lengthAdjust="spacingAndGlyphs">min</text>
<text x="3235" y="1226" font-size="22" textLength="140" lengthAdjust="spacingAndGlyphs"><tspan font-weight="bold">v</tspan>∈{−<tspan font-style="italic">α</tspan>,<tspan font-style="italic">α</tspan>}<tspan font-style="italic" font-size="16" dy="-8">N</tspan></text>
<text x="3386" y="1204" font-size="36" textLength="163" lengthAdjust="spacingAndGlyphs">‖<tspan font-weight="bold">v</tspan> + <tspan font-style="italic">α</tspan><tspan font-weight="bold">g̃</tspan><tspan font-style="italic" font-size="22" dy="6">ℬ</tspan><tspan dy="-6">‖</tspan><tspan font-size="22" dy="-14">2</tspan><tspan font-size="22" dx="-11" dy="22">2</tspan></text>
<text x="3563" y="1204" font-size="36" textLength="56" lengthAdjust="spacingAndGlyphs">⟷</text>
<text x="3675" y="1204" font-size="36" textLength="53" lengthAdjust="spacingAndGlyphs">min</text>
<text x="3631" y="1226" font-size="22" textLength="140" lengthAdjust="spacingAndGlyphs"><tspan font-weight="bold">v</tspan>∈{−<tspan font-style="italic">α</tspan>,<tspan font-style="italic">α</tspan>}<tspan font-style="italic" font-size="16" dy="-8">N</tspan></text>
<text x="3780" y="1204" font-size="36" textLength="86" lengthAdjust="spacingAndGlyphs"><tspan font-weight="bold">v</tspan><tspan font-size="22" dy="-14">T</tspan><tspan font-weight="bold" dy="14">g̃</tspan><tspan font-style="italic" font-size="22" dy="6">ℬ</tspan><tspan dy="-6">,</tspan></text>
</g>
<rect x="3771" y="1169" width="87" height="45" fill="none" stroke="#C5470E" stroke-width="4"/>
<path d="M3812,1214 L3670,1340" stroke="#C5470E" stroke-width="3.5" fill="none" marker-end="url(#aho)"/>
<text x="3732" y="1346" font-size="27" class="o" textLength="73" lengthAdjust="spacingAndGlyphs">Utility</text>
<g class="sf" fill="#111">
<text x="3232" y="1425" font-size="38" textLength="312" lengthAdjust="spacingAndGlyphs">Pr[ℰ(<tspan font-weight="bold">g̃</tspan><tspan font-style="italic" font-size="24" dy="6">ℬ</tspan><tspan dy="-6">) = </tspan><tspan font-weight="bold">v</tspan>] ∝ exp</text>
<text x="3545" y="1432" font-size="50">(</text>
<text x="3562" y="1425" font-size="38" textLength="115" lengthAdjust="spacingAndGlyphs">−<tspan font-weight="bold">v</tspan><tspan font-size="24" dy="-15">T</tspan><tspan font-weight="bold" dy="15">g̃</tspan><tspan font-style="italic" font-size="24" dy="6">ℬ</tspan><tspan dy="-6">/</tspan></text>
<text x="3684" y="1425" font-size="38" textLength="98" lengthAdjust="spacingAndGlyphs">(2<tspan font-style="italic">sC</tspan>))</text>
<text x="3305" y="1521" font-size="38">=</text>
<text x="3340" y="1534" font-size="54" textLength="42" lengthAdjust="spacingAndGlyphs">∏</text>
<text x="3354" y="1473" font-size="24" font-style="italic">N</text>
<text x="3341" y="1562" font-size="24" textLength="43" lengthAdjust="spacingAndGlyphs"><tspan font-style="italic">i</tspan>=1</text>
<text x="3389" y="1521" font-size="38" textLength="407" lengthAdjust="spacingAndGlyphs">exp (−<tspan font-style="italic">v</tspan><tspan font-style="italic" font-size="24" dy="6">i</tspan><tspan font-style="italic" dy="-6">g̃</tspan><tspan font-style="italic" font-size="24" dy="6">i</tspan><tspan dy="-6">/(2</tspan><tspan font-style="italic">sC</tspan>)) , ∀<tspan font-weight="bold">v</tspan> ∈ ℋ,</text>
</g>
<rect x="3558" y="1382" width="121" height="62" fill="none" stroke="#C5470E" stroke-width="4"/>
<rect x="3711" y="1382" width="26" height="62" fill="none" stroke="#2E75B6" stroke-width="3"/>
<text x="3629" y="1471" font-size="26" fill="#2E75B6" textLength="222" lengthAdjust="spacingAndGlyphs">Perturbation scale</text>

<path d="M3926,1134 H4273" stroke="#111" stroke-width="2" marker-end="url(#ahk)"/>
<path d="M4094,1291 V982" stroke="#111" stroke-width="2" marker-end="url(#ahk)"/>
<rect x="4017" y="1061" width="151" height="149" fill="none" stroke="#1F3A7A" stroke-width="3" stroke-dasharray="3 3"/>
<path d="M4094,1134 L4164,1066" stroke="#E0202A" stroke-width="2" marker-end="url(#ahr)"/>
<path d="M4094,1134 L4199,1066" stroke="#6AAE3E" stroke-width="2" marker-end="url(#ahg)"/>
<g class="m" font-size="18" fill="#111">
<text x="4099" y="1048">α</text>
<text x="3970" y="1160">−α</text>
<text x="4180" y="1150">α</text>
<text x="4050" y="1228">−α</text>
</g>
<text x="4133" y="1042" font-size="18" fill="#E0202A" class="m">α <tspan font-style="normal" style="font-family:'Liberation Sans',sans-serif">· sign(</tspan><tspan font-weight="bold" font-style="normal">g̃</tspan><tspan font-style="normal">)</tspan></text>
<text x="4210" y="1070" font-size="20" fill="#6AAE3E" font-weight="bold" class="sf">g̃</text>
<text x="4148" y="1278" font-size="17" font-weight="bold" fill="#111">Step-size: <tspan class="m">α</tspan></text>

<g class="sf" fill="#111">
<text x="2920" y="1756" font-size="34" textLength="275" lengthAdjust="spacingAndGlyphs">Pr([ℰ(<tspan font-weight="bold">g̃</tspan><tspan font-style="italic" font-size="22" dy="6">ℬ</tspan><tspan dy="-6">)]</tspan><tspan font-style="italic" font-size="22" dy="6">i</tspan><tspan dy="-6"> = </tspan><tspan font-style="italic">v</tspan><tspan font-style="italic" font-size="22" dy="6">i</tspan><tspan dy="-6">) =</tspan></text>
<text x="3288" y="1729" font-size="30" textLength="65" lengthAdjust="spacingAndGlyphs">exp(−</text>
<text x="3358" y="1713" font-size="20" font-style="italic" textLength="60" lengthAdjust="spacingAndGlyphs">v<tspan font-size="14" dy="4">i</tspan><tspan dy="-4">g̃</tspan><tspan font-size="14" dy="4">i</tspan></text>
<text x="3366" y="1740" font-size="20" textLength="50" lengthAdjust="spacingAndGlyphs">2<tspan font-style="italic">sC</tspan></text>
<text x="3431" y="1729" font-size="30">)</text>
<text x="3206" y="1780" font-size="30" textLength="54" lengthAdjust="spacingAndGlyphs">exp(</text>
<text x="3282" y="1764" font-size="20" font-style="italic">g̃<tspan font-size="14" dy="4">i</tspan></text>
<text x="3272" y="1792" font-size="20" textLength="46" lengthAdjust="spacingAndGlyphs">2<tspan font-style="italic">sC</tspan></text>
<text x="3321" y="1780" font-size="30" textLength="140" lengthAdjust="spacingAndGlyphs">) + exp(−</text>
<text x="3478" y="1764" font-size="20" font-style="italic">g̃<tspan font-size="14" dy="4">i</tspan></text>
<text x="3466" y="1792" font-size="20" textLength="46" lengthAdjust="spacingAndGlyphs">2<tspan font-style="italic">sC</tspan></text>
<text x="3516" y="1780" font-size="30">)</text>
<text x="3538" y="1756" font-size="30">.</text>
</g>
<path d="M3205,1745 H3535 M3353,1720 H3428 M3270,1772 H3321 M3465,1772 H3512" stroke="#111" stroke-width="1.5"/>
<polygon points="3572,1726 3624,1726 3624,1706 3661,1745 3624,1783 3624,1763 3572,1763" fill="#566F72"/>
<text class="sf" x="3703" y="1762" font-size="40" fill="#111" textLength="488" lengthAdjust="spacingAndGlyphs">[ℰ(<tspan font-weight="bold">g̃</tspan><tspan font-style="italic" font-size="26" dy="7">ℬ</tspan><tspan dy="-7">)]</tspan><tspan font-style="italic" font-size="26" dy="7">i</tspan><tspan dy="-7"> = −</tspan><tspan class="mono">sign</tspan>(<tspan font-style="italic">g̃</tspan><tspan font-style="italic" font-size="26" dy="7">i</tspan><tspan dy="-7"> + </tspan><tspan font-style="italic">n</tspan><tspan font-style="italic" font-size="26" dy="7">i</tspan><tspan font-style="italic" dy="-7">C</tspan>)</text>

<g class="sf" fill="#111">
<text x="3121" y="1941" font-size="40" textLength="628" lengthAdjust="spacingAndGlyphs">Pr(<tspan font-style="italic">n</tspan><tspan font-style="italic" font-size="26" dy="7">i</tspan><tspan dy="-7"> &lt; −</tspan><tspan font-style="italic">g̃</tspan><tspan font-style="italic" font-size="26" dy="7">i</tspan><tspan dy="-7">/</tspan><tspan font-style="italic">C</tspan>) = Pr(<tspan font-style="italic">n</tspan><tspan font-style="italic" font-size="26" dy="7">i</tspan><tspan dy="-7"> + </tspan><tspan font-style="italic">g̃</tspan><tspan font-style="italic" font-size="26" dy="7">i</tspan><tspan dy="-7">/</tspan><tspan font-style="italic">C</tspan> &lt; 0)</text>
<text x="3921" y="1941" font-size="40" textLength="66" lengthAdjust="spacingAndGlyphs">(11)</text>
<text x="3144" y="2036" font-size="40" textLength="391" lengthAdjust="spacingAndGlyphs">= Pr([ℰ(<tspan font-weight="bold">g̃</tspan><tspan font-style="italic" font-size="26" dy="7">ℬ</tspan><tspan dy="-7">)]</tspan><tspan font-style="italic" font-size="26" dy="7">i</tspan><tspan dy="-7"> = −1) =</tspan></text>
<text x="3665" y="2010" font-size="36" textLength="65" lengthAdjust="spacingAndGlyphs">exp(</text>
<text x="3755" y="1990" font-size="22" font-style="italic">g̃<tspan font-size="15" dy="4">i</tspan></text>
<text x="3740" y="2019" font-size="22" textLength="55" lengthAdjust="spacingAndGlyphs">2<tspan font-style="italic">sC</tspan></text>
<text x="3805" y="2010" font-size="36">)</text>
<text x="3549" y="2067" font-size="36" textLength="65" lengthAdjust="spacingAndGlyphs">exp(</text>
<text x="3640" y="2050" font-size="22" font-style="italic">g̃<tspan font-size="15" dy="4">i</tspan></text>
<text x="3626" y="2079" font-size="22" textLength="55" lengthAdjust="spacingAndGlyphs">2<tspan font-style="italic">sC</tspan></text>
<text x="3689" y="2067" font-size="36" textLength="158" lengthAdjust="spacingAndGlyphs">) + exp(−</text>
<text x="3872" y="2050" font-size="22" font-style="italic">g̃<tspan font-size="15" dy="4">i</tspan></text>
<text x="3857" y="2079" font-size="22" textLength="57" lengthAdjust="spacingAndGlyphs">2<tspan font-style="italic">sC</tspan></text>
<text x="3921" y="2067" font-size="36">)</text>
<text x="3940" y="2036" font-size="36">.</text>
</g>
<path d="M3550,2025 H3935 M3735,1998 H3800 M3623,2057 H3684 M3852,2057 H3917" stroke="#111" stroke-width="1.8"/>
<polygon points="3544,2106 3574,2106 3574,2222 3589,2222 3559,2251 3528,2222 3544,2222" fill="#4472C4" stroke="#2F528F" stroke-width="2"/>
<g class="sf" fill="#111">
<text x="3279" y="2360" font-size="42" textLength="160" lengthAdjust="spacingAndGlyphs"><tspan font-style="italic">f</tspan><tspan font-style="italic" font-size="26" dy="8">n</tspan><tspan font-style="italic" font-size="18" dy="5">i</tspan><tspan dy="-13">(</tspan><tspan font-style="italic">x</tspan>) =</text>
<text x="3526" y="2330" font-size="40" textLength="191" lengthAdjust="spacingAndGlyphs">exp(−<tspan font-style="italic">x</tspan>/<tspan font-style="italic">s</tspan>)</text>
<text x="3456" y="2390" font-size="40" textLength="335" lengthAdjust="spacingAndGlyphs"><tspan font-style="italic">s</tspan>(1 + exp(−<tspan font-style="italic">x</tspan>/<tspan font-style="italic">s</tspan>))<tspan font-size="26" dy="-16">2</tspan></text>
<text x="3800" y="2362" font-size="40">,</text>
</g>
<path d="M3455,2347 H3793" stroke="#111" stroke-width="2"/>
<rect x="3105" y="2488" width="899" height="71" fill="none" stroke="#C5470E" stroke-width="4"/>
<text x="3249" y="2538" font-size="46" class="o" textLength="609" lengthAdjust="spacingAndGlyphs">Answer: Logistic distribution</text>

<!-- ============ THEORETIC ============ -->
<text x="79" y="2026" font-size="53" class="o" textLength="450" lengthAdjust="spacingAndGlyphs">Theoretic Results</text>
<rect x="79" y="2030" width="450" height="5" fill="#C5470E"/>
<text x="219" y="2153" font-size="32" class="o" textLength="456" lengthAdjust="spacingAndGlyphs">Tight privacy bound (≈ <tspan font-weight="bold" font-style="italic">x</tspan><tspan font-weight="bold">50</tspan>)</text>
<rect x="219" y="2157" width="456" height="2.5" fill="#C5470E"/>
<text x="1045" y="2103" font-size="32" class="o" textLength="315" lengthAdjust="spacingAndGlyphs">Faster convergence</text>
<rect x="1045" y="2107" width="315" height="2.5" fill="#C5470E"/>

<g class="sf" fill="#111" font-size="27">
<text x="88" y="2246" font-weight="bold" textLength="161" lengthAdjust="spacingAndGlyphs">Theorem 3.5</text>
<text x="257" y="2246" textLength="380" lengthAdjust="spacingAndGlyphs">(Asymptotic bound of <tspan font-style="italic">α</tspan><tspan font-style="italic" font-size="18" dy="5">ℳ</tspan><tspan dy="-5">(</tspan><tspan font-style="italic">λ</tspan>))<tspan font-weight="bold">.</tspan></text>
<text x="651" y="2246" font-style="italic" textLength="79" lengthAdjust="spacingAndGlyphs">If s &lt;</text>
<text x="746" y="2234" font-size="18" textLength="35" lengthAdjust="spacingAndGlyphs">√3</text>
<text x="739" y="2259" font-size="18" textLength="50" lengthAdjust="spacingAndGlyphs">16<tspan font-style="italic">πq</tspan></text>
<text x="791" y="2250" font-size="18">,</text>
<text x="88" y="2287" font-style="italic" textLength="613" lengthAdjust="spacingAndGlyphs">α<tspan font-size="18" dy="5">ℳ</tspan><tspan dy="-5" font-style="normal">(</tspan>λ<tspan font-style="normal">)</tspan> with the Logistic mechanism is bounded by</text>
</g>
<path d="M739,2241 H789" stroke="#111" stroke-width="1.3"/>
<g class="sf" fill="#111" font-size="30">
<text x="307" y="2362" textLength="111" lengthAdjust="spacingAndGlyphs"><tspan font-style="italic">α</tspan><tspan font-style="italic" font-size="20" dy="5">ℰ</tspan><tspan dy="-5">(</tspan><tspan font-style="italic">λ</tspan>) ≤</text>
<text x="423" y="2342" textLength="138" lengthAdjust="spacingAndGlyphs"><tspan font-style="italic">λ</tspan>(<tspan font-style="italic">λ</tspan> + 1)<tspan font-style="italic">q</tspan><tspan font-size="20" dy="-12">2</tspan></text>
<text x="466" y="2383" textLength="58" lengthAdjust="spacingAndGlyphs">50<tspan font-style="italic">s</tspan><tspan font-size="20" dy="-12">2</tspan></text>
<text x="569" y="2362">.</text>
<text x="744" y="2362" textLength="48" lengthAdjust="spacingAndGlyphs">(20)</text>
</g>
<path d="M423,2352 H564" stroke="#111" stroke-width="1.5"/>

<g class="sf" fill="#111" font-size="27">
<text x="895" y="2150" textLength="682" lengthAdjust="spacingAndGlyphs"><tspan font-weight="bold">Theorem 3.6</tspan> (Convergence of S<tspan font-size="20">IGN</tspan>SGD with additive</text>
<text x="895" y="2185" textLength="682" lengthAdjust="spacingAndGlyphs">noise)<tspan font-weight="bold">.</tspan> <tspan font-style="italic">For the loss function ℒ, let us assume that the pa-</tspan></text>
<text x="895" y="2219" font-style="italic" textLength="682" lengthAdjust="spacingAndGlyphs">rameter θ satisfies β⃗-smoothness. If <tspan font-style="normal">S<tspan font-size="20">IGN</tspan>SGD</tspan> optimizer</text>
<text x="895" y="2254" font-style="italic" textLength="682" lengthAdjust="spacingAndGlyphs">is implemented with zero-mean independent additive noise,</text>
<text x="895" y="2288" font-style="italic" textLength="561" lengthAdjust="spacingAndGlyphs">the ℓ<tspan font-size="18" dy="5" font-style="normal">1</tspan><tspan dy="-5"> convergence of the gradient is bounded by</tspan></text>
</g>
<g class="sf" fill="#111">
<text x="929" y="2354" font-size="28">1</text>
<text x="926" y="2393" font-size="28" font-style="italic">T</text>
<text x="958" y="2337" font-size="20" textLength="42" lengthAdjust="spacingAndGlyphs"><tspan font-style="italic">T</tspan>−1</text>
<text x="957" y="2386" font-size="50">∑</text>
<text x="960" y="2410" font-size="20" textLength="38" lengthAdjust="spacingAndGlyphs"><tspan font-style="italic">t</tspan>=0</text>
<text x="1006" y="2374" font-size="28" textLength="167" lengthAdjust="spacingAndGlyphs">𝔼[‖∇ℒ(<tspan font-style="italic">θ</tspan><tspan font-style="italic" font-size="18" dy="5">t</tspan><tspan dy="-5">)‖</tspan><tspan font-size="18" dy="5">1</tspan><tspan dy="-5">]</tspan></text>
<text x="990" y="2472" font-size="30">≤</text>
<text x="1040" y="2450" font-size="28">1</text>
<text x="1024" y="2492" font-size="28" textLength="45" lengthAdjust="spacingAndGlyphs">√<tspan font-style="italic">T</tspan></text>
<text x="1072" y="2500" font-size="92" transform="translate(1072,2500) scale(0.4,1) translate(-1072,-2500)">[</text>
<text x="1088" y="2470" font-size="32" textLength="87" lengthAdjust="spacingAndGlyphs">√‖<tspan font-style="italic">β⃗</tspan>‖<tspan font-size="20" dy="5">1</tspan></text>
<text x="1178" y="2496" font-size="84" transform="translate(1178,2496) scale(0.4,1) translate(-1178,-2496)">(</text>
<text x="1196" y="2470" font-size="30" textLength="164" lengthAdjust="spacingAndGlyphs">ℒ(<tspan font-style="italic">θ</tspan><tspan font-size="20" dy="5">0</tspan><tspan dy="-5">) − ℒ</tspan><tspan font-size="20" dy="-12">*</tspan><tspan dy="12"> +</tspan></text>
<text x="1376" y="2450" font-size="28">1</text>
<text x="1376" y="2490" font-size="28">2</text>
<text x="1395" y="2496" font-size="84" transform="translate(1395,2496) scale(0.4,1) translate(-1395,-2496)">)</text>
<text x="1419" y="2470" font-size="30" textLength="58" lengthAdjust="spacingAndGlyphs">+ 2<tspan font-style="italic">ξ</tspan></text>
<text x="1480" y="2500" font-size="92" transform="translate(1480,2500) scale(0.4,1) translate(-1480,-2500)">]</text>
<text x="1524" y="2464" font-size="30" textLength="48" lengthAdjust="spacingAndGlyphs">(21)</text>
<text x="985" y="2566" font-size="30" textLength="47" lengthAdjust="spacingAndGlyphs">+ 2</text>
<text x="1037" y="2546" font-size="30" textLength="104" lengthAdjust="spacingAndGlyphs">√Tr(<tspan font-weight="bold">N</tspan>)</text>
<text x="1067" y="2588" font-size="30" textLength="45" lengthAdjust="spacingAndGlyphs">√<tspan font-style="italic">T</tspan></text>
<text x="1146" y="2566" font-size="30">,</text>
</g>
<path d="M926,2360 H946 M1022,2460 H1069 M1374,2460 H1392 M1037,2556 H1141" stroke="#111" stroke-width="1.5"/>

<text x="37" y="2596" font-size="50" fill="#111" textLength="249" lengthAdjust="spacingAndGlyphs">Reference</text>
<g font-size="24" fill="#404040">
<text x="37" y="2647" textLength="1551" lengthAdjust="spacingAndGlyphs">[1] Bernstein, J., Zhao, J., Azizzadenesheli, K., and Anandkumar, A. signSGD with majority vote is communication efficient and fault</text>
<text x="37" y="2686" textLength="561" lengthAdjust="spacingAndGlyphs">tolerant. arXiv preprint arXiv:1810.05291, 2019.</text>
<text x="37" y="2724" textLength="1540" lengthAdjust="spacingAndGlyphs">[2] Dwork, C. and Roth, A. The algorithmic foundations of differential privacy. Found. Trends Theor. Comput. Sci., 9(3–4):211–407,</text>
<text x="37" y="2763" textLength="596" lengthAdjust="spacingAndGlyphs">2014. ISSN 1551-305X. doi: 10.1561/ 0400000042</text>
<text x="37" y="2802" textLength="1593" lengthAdjust="spacingAndGlyphs">[3] Abadi, M., Chu, A., Goodfellow, I., McMahan, H. B., Mironov, I., Talwar, K., and Zhang, L. Deep learning with differential privacy. In</text>
<text x="37" y="2839" textLength="132" lengthAdjust="spacingAndGlyphs">CCS, 2016.</text>
</g>

<!-- ============ NUMERICAL ============ -->
<text x="1712" y="2030" font-size="53" class="o" textLength="469" lengthAdjust="spacingAndGlyphs">Numerical Results</text>
<rect x="1712" y="2035" width="469" height="5" fill="#C5470E"/>

<rect x="1778" y="2114" width="458" height="274" fill="#fff"/>
<path d="M1778,2151H2236M1778,2188H2236M1778,2224H2236M1778,2261H2236M1778,2297H2236M1778,2334H2236M1778,2370H2236M1937,2114V2388M2134,2114V2388" stroke="#dcdcdc" stroke-width="1.5"/>
<rect x="1778" y="2114" width="458" height="274" fill="none" stroke="#333" stroke-width="1.5"/>
<g font-size="18" fill="#222" text-anchor="end">
<text x="1771" y="2121">100</text><text x="1771" y="2157">98</text><text x="1771" y="2194">96</text><text x="1771" y="2230">94</text><text x="1771" y="2267">92</text><text x="1771" y="2303">90</text><text x="1771" y="2340">88</text><text x="1771" y="2376">86</text>
</g>
<g font-size="18" fill="#222"><text x="1925" y="2408">10<tspan font-size="12" dy="-8">0</tspan></text><text x="2122" y="2408">10<tspan font-size="12" dy="-8">1</tspan></text></g>
<text x="2008" y="2427" font-size="17" fill="#222" text-anchor="middle">Epsilon (<tspan class="m">ε</tspan>)</text>
<text transform="translate(1735,2252) rotate(-90)" font-size="17" fill="#222" text-anchor="middle">Accuracy (%)</text>
<g fill="none">
<polyline points="1799,2361 1859,2308 1918,2283 1977,2251 2037,2221 2097,2185 2156,2158 2217,2142" stroke="#EE2A2A" stroke-width="2.5" marker-start="url(#mc)" marker-mid="url(#mc)" marker-end="url(#mc)"/>
<polyline points="1799,2351 1859,2299 1918,2274 1977,2248 2037,2221 2097,2191 2156,2171 2217,2161" stroke="#EE2A2A" stroke-width="2" stroke-dasharray="2 3" marker-start="url(#mc)" marker-mid="url(#mc)" marker-end="url(#mc)"/>
<polyline points="1799,2363 1859,2332 1918,2293 1977,2274 2037,2261 2097,2251 2156,2240 2217,2230" stroke="#2A8C2A" stroke-width="2.5" marker-start="url(#mt)" marker-mid="url(#mt)" marker-end="url(#mt)"/>
<polyline points="1799,2346 1859,2318 1918,2287 1977,2264 2037,2255 2097,2249 2156,2234 2217,2232" stroke="#2A8C2A" stroke-width="2" stroke-dasharray="2 3" marker-start="url(#mt)" marker-mid="url(#mt)" marker-end="url(#mt)"/>
</g>
<rect x="1785" y="2122" width="214" height="91" rx="3" fill="#fff" fill-opacity="0.9" stroke="#d0d0d0" stroke-width="1.5"/>
<g fill="none">
<path d="M1791,2134 H1821" stroke="#EE2A2A" stroke-width="2.5"/><circle cx="1806" cy="2134" r="3.3" fill="#fff" stroke="#EE2A2A" stroke-width="1.5"/>
<path d="M1791,2156 H1821" stroke="#EE2A2A" stroke-width="2" stroke-dasharray="2 3"/><circle cx="1806" cy="2156" r="3.3" fill="#fff" stroke="#EE2A2A" stroke-width="1.5"/>
<path d="M1791,2177 H1821" stroke="#2A8C2A" stroke-width="2.5"/><path d="M1802,2174 L1810,2174 L1806,2181 Z" fill="#fff" stroke="#2A8C2A" stroke-width="1.5"/>
<path d="M1791,2199 H1821" stroke="#2A8C2A" stroke-width="2" stroke-dasharray="2 3"/><path d="M1802,2196 L1810,2196 L1806,2203 Z" fill="#fff" stroke="#2A8C2A" stroke-width="1.5"/>
</g>
<g font-size="16" fill="#222">
<text x="1834" y="2140" textLength="142" lengthAdjust="spacingAndGlyphs">Proposed (training)</text>
<text x="1834" y="2162" textLength="113" lengthAdjust="spacingAndGlyphs">Proposed (test)</text>
<text x="1834" y="2183" textLength="161" lengthAdjust="spacingAndGlyphs">DP-signSGD (training)</text>
<text x="1834" y="2205" textLength="132" lengthAdjust="spacingAndGlyphs">DP-signSGD (test)</text>
</g>

<rect x="2344" y="2109" width="467" height="282" fill="#fff"/>
<path d="M2344,2166H2811M2344,2222H2811M2344,2278H2811M2344,2334H2811M2359,2109V2391M2420,2109V2391M2482,2109V2391M2544,2109V2391M2605,2109V2391M2666,2109V2391M2728,2109V2391M2789,2109V2391" stroke="#dcdcdc" stroke-width="1.5"/>
<rect x="2344" y="2109" width="467" height="282" fill="none" stroke="#333" stroke-width="1.5"/>
<g font-size="19" fill="#222" text-anchor="end">
<text x="2336" y="2117">100</text><text x="2336" y="2173">98</text><text x="2336" y="2229">96</text><text x="2336" y="2285">94</text><text x="2336" y="2341">92</text><text x="2336" y="2397">90</text>
</g>
<g font-size="19" fill="#222" text-anchor="middle">
<text x="2359" y="2412">5</text><text x="2420" y="2412">10</text><text x="2482" y="2412">15</text><text x="2544" y="2412">20</text><text x="2605" y="2412">25</text><text x="2666" y="2412">30</text><text x="2728" y="2412">35</text><text x="2789" y="2412">40</text>
</g>
<text x="2574" y="2431" font-size="18" fill="#222" text-anchor="middle" textLength="143" lengthAdjust="spacingAndGlyphs">Trainable Epochs</text>
<text transform="translate(2293,2250) rotate(-90)" font-size="17" fill="#222" text-anchor="middle">Accuracy (%)</text>
<g fill="none">
<polyline points="2359,2254 2420,2234 2482,2225 2544,2218 2605,2216 2666,2213 2728,2211 2789,2210" stroke="#EE2A2A" stroke-width="2.5" marker-start="url(#mc)" marker-mid="url(#mc)" marker-end="url(#mc)"/>
<polyline points="2359,2251 2420,2236 2482,2227 2544,2228 2605,2220 2666,2223 2728,2226 2789,2227" stroke="#EE2A2A" stroke-width="2" stroke-dasharray="2 3" marker-start="url(#mc)" marker-mid="url(#mc)" marker-end="url(#mc)"/>
<polyline points="2359,2381 2420,2353 2482,2334 2544,2321 2605,2307 2666,2297 2728,2291 2789,2294" stroke="#2A8C2A" stroke-width="2.5" marker-start="url(#mt)" marker-mid="url(#mt)" marker-end="url(#mt)"/>
<polyline points="2359,2364 2420,2344 2482,2329 2544,2316 2605,2310 2666,2298 2728,2290 2789,2297" stroke="#2A8C2A" stroke-width="2" stroke-dasharray="2 3" marker-start="url(#mt)" marker-mid="url(#mt)" marker-end="url(#mt)"/>
</g>
<rect x="2346" y="2117" width="221" height="93" rx="3" fill="#fff" fill-opacity="0.9" stroke="#d0d0d0" stroke-width="1.5"/>
<g fill="none">
<path d="M2353,2129 H2383" stroke="#EE2A2A" stroke-width="2.5"/><circle cx="2368" cy="2129" r="3.3" fill="#fff" stroke="#EE2A2A" stroke-width="1.5"/>
<path d="M2353,2152 H2383" stroke="#EE2A2A" stroke-width="2" stroke-dasharray="2 3"/><circle cx="2368" cy="2152" r="3.3" fill="#fff" stroke="#EE2A2A" stroke-width="1.5"/>
<path d="M2353,2174 H2383" stroke="#2A8C2A" stroke-width="2.5"/><path d="M2364,2171 L2372,2171 L2368,2178 Z" fill="#fff" stroke="#2A8C2A" stroke-width="1.5"/>
<path d="M2353,2197 H2383" stroke="#2A8C2A" stroke-width="2" stroke-dasharray="2 3"/><path d="M2364,2194 L2372,2194 L2368,2201 Z" fill="#fff" stroke="#2A8C2A" stroke-width="1.5"/>
</g>
<g font-size="16" fill="#222">
<text x="2395" y="2135" textLength="146" lengthAdjust="spacingAndGlyphs">Proposed (training)</text>
<text x="2395" y="2158" textLength="116" lengthAdjust="spacingAndGlyphs">Proposed (test)</text>
<text x="2395" y="2180" textLength="166" lengthAdjust="spacingAndGlyphs">DP-signSGD (training)</text>
<text x="2395" y="2203" textLength="137" lengthAdjust="spacingAndGlyphs">DP-signSGD (test)</text>
</g>

<g font-size="31" fill="#2D3E48">
<text x="1979" y="2517">•</text><text x="1979" y="2566">•</text>
<text x="2022" y="2517" textLength="618" lengthAdjust="spacingAndGlyphs">(Left) Various values of privacy budget</text>
<text x="2022" y="2566" textLength="522" lengthAdjust="spacingAndGlyphs">(Right) Various trainable epochs.</text>
</g>

<!-- ============ SUMMARY ============ -->
<text x="1752" y="2736" font-size="50" fill="#111" textLength="234" lengthAdjust="spacingAndGlyphs">Summary</text>
<rect x="2031" y="2613" width="8" height="224" fill="#5A78B0"/>
<g font-size="32">
<text x="2064" y="2667" fill="#5B7176">•</text><text x="2064" y="2707" fill="#5B7176">•</text><text x="2064" y="2745" fill="#5B7176">•</text>
<text x="2106" y="2667" fill="#5B7176" textLength="773" lengthAdjust="spacingAndGlyphs">We have demonstrated the effectiveness of additive</text>
<text x="2891" y="2667" class="o" textLength="1197" lengthAdjust="spacingAndGlyphs">Logistic noise in reducing accumulated privacy loss in sign-sampling problem.</text>
<text x="2106" y="2707" fill="#5B7176" textLength="898" lengthAdjust="spacingAndGlyphs">Our proposed method introduces an innovative approach to</text>
<text x="3014" y="2707" class="o" textLength="576" lengthAdjust="spacingAndGlyphs">differentially private sign-based SGD.</text>
<text x="2106" y="2745" fill="#5B7176" textLength="1609" lengthAdjust="spacingAndGlyphs">The comprehensive nature of our theoretical analysis highlights superiority of Logistic distribution in terms of</text>
<text x="3723" y="2745" class="o" textLength="468" lengthAdjust="spacingAndGlyphs">convergence speed, accuracy,</text>
<text x="2106" y="2785" class="o" textLength="561" lengthAdjust="spacingAndGlyphs">and the tightness of privacy bounds.</text>
</g>
</svg>
</body></html>
